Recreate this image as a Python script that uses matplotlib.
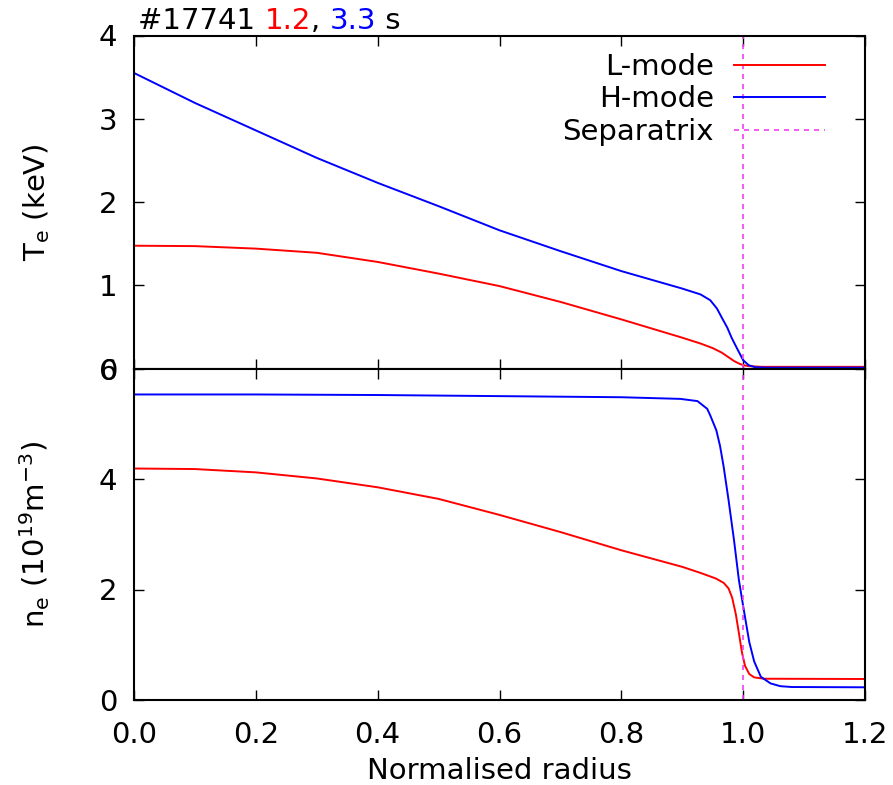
import matplotlib.pyplot as plt

# Te profiles (keV)
r_te_l = [0.0, 0.1, 0.2, 0.3, 0.4, 0.5, 0.6, 0.7, 0.8, 0.9, 0.93, 0.95, 0.965, 0.975,
          0.985, 0.993, 1.0, 1.01, 1.03, 1.2]
te_l = [1.475, 1.47, 1.44, 1.39, 1.28, 1.14, 0.99, 0.80, 0.59, 0.37, 0.30, 0.245, 0.19, 0.14,
        0.09, 0.06, 0.04, 0.028, 0.02, 0.02]

r_te_h = [0.0, 0.1, 0.2, 0.3, 0.4, 0.5, 0.6, 0.7, 0.8, 0.9, 0.93, 0.946, 0.957, 0.965,
          0.974, 0.981, 0.99, 1.0, 1.009, 1.02, 1.04, 1.2]
te_h = [3.55, 3.19, 2.86, 2.53, 2.23, 1.95, 1.66, 1.41, 1.17, 0.96, 0.89, 0.82, 0.72, 0.61,
        0.49, 0.37, 0.24, 0.10, 0.04, 0.015, 0.01, 0.01]

# ne profiles (1e19 m^-3)
r_ne_l = [0.0, 0.1, 0.2, 0.3, 0.4, 0.5, 0.6, 0.7, 0.8, 0.9, 0.93, 0.955, 0.968, 0.976,
          0.982, 0.988, 0.993, 0.998, 1.003, 1.01, 1.018, 1.034, 1.2]
ne_l = [4.19, 4.18, 4.12, 4.01, 3.85, 3.64, 3.35, 3.04, 2.71, 2.41, 2.30, 2.20, 2.12, 2.02,
        1.85, 1.55, 1.21, 0.86, 0.62, 0.47, 0.41, 0.385, 0.38]

r_ne_h = [0.0, 0.2, 0.4, 0.6, 0.8, 0.897, 0.925, 0.941, 0.946, 0.956, 0.962, 0.968, 0.976,
          0.985, 0.993, 1.0, 1.01, 1.018, 1.029, 1.045, 1.061, 1.08, 1.2]
ne_h = [5.53, 5.53, 5.52, 5.50, 5.48, 5.45, 5.41, 5.27, 5.15, 4.88, 4.60, 4.22, 3.62,
        2.89, 2.17, 1.70, 1.05, 0.70, 0.42, 0.30, 0.25, 0.235, 0.23]

separatrix = 1.0
x_ticks = [0.0, 0.2, 0.4, 0.6, 0.8, 1.0, 1.2]
x_ticklabels = ['0.0', '0.2', '0.4', '0.6', '0.8', '1.0', '1.2']

red = '#ff0000'
blue = '#0000ff'
mag = '#f040f0'
fs = 21

plt.rcParams['font.family'] = 'DejaVu Sans'
plt.rcParams['mathtext.default'] = 'regular'
fig = plt.figure(figsize=(8.93, 7.85), dpi=100)
W, H = 893, 785
left, right = 134, 865
ax1 = fig.add_axes([left / W, (H - 368.5) / H, (right - left) / W, (368.5 - 35.5) / H])
ax2 = fig.add_axes([left / W, (H - 700) / H, (right - left) / W, (700 - 368.5) / H])

ax1.plot(r_te_l, te_l, color=red, lw=1.4, label='L-mode')
ax1.plot(r_te_h, te_h, color=blue, lw=1.4, label='H-mode')
ax1.axvline(separatrix, color=mag, lw=1.2, ls=(0, (3, 3)), label='Separatrix')
ax2.plot(r_ne_l, ne_l, color=red, lw=1.4)
ax2.plot(r_ne_h, ne_h, color=blue, lw=1.4)
ax2.axvline(separatrix, color=mag, lw=1.2, ls=(0, (3, 3)))

ax1.set_ylim(0, 4)
ax1.set_yticks([0, 1, 2, 3, 4])
ax2.set_ylim(0, 6)
ax2.set_yticks([0, 2, 4, 6])
for ax in (ax1, ax2):
    ax.set_xlim(0, 1.2)
    ax.set_xticks(x_ticks)
    ax.tick_params(direction='in', length=7, width=1.0, top=True, right=True,
                   labelsize=fs)
    ax.tick_params(axis='y', pad=12)
    ax.tick_params(axis='x', pad=15)
    for s in ax.spines.values():
        s.set_linewidth(1.5)
ax1.set_xticklabels([])
ax2.set_xticklabels(x_ticklabels)

ax1.set_ylabel('T$_e$ (keV)', fontsize=fs)
ax2.set_ylabel('n$_e$ (10$^{19}$m$^{-3}$)', fontsize=fs)
ax1.yaxis.set_label_coords(-0.112, 0.5)
ax2.yaxis.set_label_coords(-0.112, 0.5)
ax2.set_xlabel('Normalised radius', fontsize=fs, labelpad=6)

ax1.legend(loc='upper right', bbox_to_anchor=(0.969, 1.0), frameon=False,
           markerfirst=False, fontsize=fs, handlelength=3.1, handletextpad=0.7,
           labelspacing=0.15, borderaxespad=0.2)

# title made of coloured pieces
prev = fig.text(138 / W, (H - 29) / H, '#17741 ', fontsize=fs, color='black')
for txt, c in [('1.2', red), (', ', 'black'), ('3.3', blue), (' s', 'black')]:
    prev = ax1.annotate(txt, xy=(1, 0), xycoords=prev, fontsize=fs, color=c,
                        va='bottom', annotation_clip=False)

fig.savefig('out.png', dpi=100)
